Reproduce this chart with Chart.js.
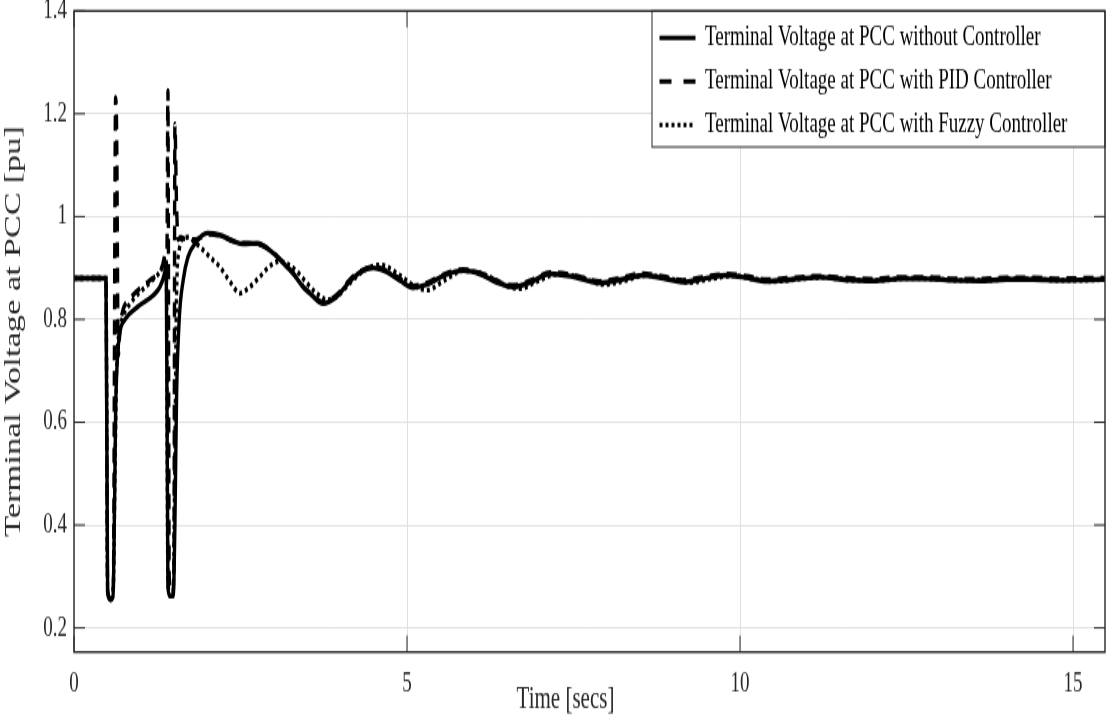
<!DOCTYPE html>
<html>
<head>
<meta charset="utf-8">
<script src="https://cdn.jsdelivr.net/npm/chart.js@4.4.1/dist/chart.umd.min.js"></script>
<style>
html,body{margin:0;padding:0;background:#fff;overflow:hidden;}
#wrap{width:1106px;height:723px;overflow:hidden;background:#fff;}
#c{display:block;transform:scaleY(1.5);transform-origin:0 0;}
</style>
</head>
<body>
<div id="wrap"><canvas id="c" width="1106" height="482"></canvas></div>
<script>
// ---------------- data ----------------
const seriesNames = [
  'Terminal Voltage at PCC without Controller',
  'Terminal Voltage at PCC with PID Controller',
  'Terminal Voltage at PCC with Fuzzy Controller'
];

const timeNoCtrl = [0,0.48,0.505,0.55,0.585,0.61,0.625,0.65,0.69,0.766,0.95,1.19,1.29,1.36,1.385,1.41,1.44,1.49,1.515,1.54,1.58,1.64,1.71,1.82,2.0,2.19,2.4,2.54,2.75,2.99,3.14,3.29,3.44,3.54,3.74,3.95,4.14,4.3,4.49,4.7,4.9,5.09,5.3,5.55,5.84,6.1,6.35,6.59,6.85,7.15,7.5,7.9,8.2,8.54,8.85,9.14,9.45,9.8,10.1,10.4,10.8,11.2,11.6,12.0,12.4,12.8,13.2,13.6,14.0,14.4,14.8,15.2,15.5];
const voltNoCtrl = [0.88,0.88,0.27,0.255,0.26,0.45,0.62,0.72,0.775,0.80,0.824,0.847,0.863,0.89,0.91,0.28,0.262,0.262,0.40,0.65,0.80,0.877,0.921,0.948,0.968,0.964,0.952,0.947,0.948,0.929,0.91,0.889,0.863,0.851,0.831,0.845,0.874,0.892,0.900,0.892,0.875,0.862,0.868,0.885,0.895,0.888,0.872,0.863,0.872,0.889,0.883,0.871,0.877,0.886,0.880,0.873,0.879,0.886,0.881,0.874,0.878,0.882,0.877,0.875,0.879,0.879,0.876,0.875,0.878,0.878,0.876,0.877,0.878];

const timePID = [0,0.48,0.505,0.55,0.59,0.625,0.64,0.665,0.69,0.72,0.84,1.14,1.32,1.38,1.395,1.41,1.43,1.47,1.50,1.515,1.54,1.565,1.6,1.7,1.82,2.0,2.19,2.4,2.54,2.75,2.99,3.14,3.29,3.44,3.54,3.74,3.95,4.14,4.3,4.49,4.7,4.9,5.09,5.3,5.55,5.84,6.1,6.35,6.59,6.85,7.15,7.5,7.9,8.2,8.54,8.85,9.14,9.45,9.8,10.1,10.4,10.8,11.2,11.6,12.0,12.4,12.8,13.2,13.6,14.0,14.4,14.8,15.2,15.5];
const voltPID = [0.88,0.88,0.27,0.255,0.27,1.232,1.17,0.73,0.78,0.81,0.84,0.876,0.90,0.93,0.93,1.245,0.30,0.262,0.30,1.18,1.02,0.955,0.96,0.955,0.955,0.966,0.963,0.952,0.948,0.947,0.93,0.911,0.89,0.864,0.852,0.833,0.848,0.877,0.894,0.902,0.894,0.878,0.865,0.871,0.887,0.897,0.89,0.875,0.866,0.875,0.891,0.886,0.874,0.88,0.889,0.883,0.876,0.882,0.888,0.884,0.877,0.881,0.884,0.88,0.878,0.882,0.882,0.879,0.878,0.881,0.881,0.879,0.88,0.88];

const timeFuzzy = [0,0.48,0.505,0.55,0.59,0.615,0.64,0.67,0.72,0.84,1.14,1.3,1.385,1.41,1.45,1.49,1.515,1.54,1.58,1.64,1.72,1.8,1.9,2.05,2.19,2.35,2.49,2.62,2.79,2.95,3.08,3.2,3.35,3.5,3.65,3.8,3.95,4.15,4.35,4.6,4.85,5.1,5.3,5.55,5.85,6.15,6.45,6.7,6.95,7.25,7.6,7.95,8.25,8.6,8.95,9.25,9.55,9.9,10.2,10.5,10.9,11.3,11.7,12.1,12.5,12.9,13.3,13.7,14.1,14.5,14.9,15.3,15.5];
const voltFuzzy = [0.88,0.88,0.27,0.258,0.28,0.50,0.70,0.77,0.80,0.83,0.872,0.895,0.92,0.29,0.262,0.27,0.55,0.85,0.935,0.957,0.96,0.952,0.94,0.92,0.902,0.872,0.851,0.861,0.883,0.905,0.913,0.908,0.893,0.87,0.85,0.838,0.845,0.872,0.895,0.906,0.89,0.866,0.857,0.875,0.895,0.888,0.868,0.86,0.874,0.888,0.882,0.868,0.875,0.886,0.879,0.872,0.879,0.885,0.879,0.874,0.879,0.882,0.876,0.876,0.88,0.879,0.876,0.876,0.879,0.878,0.876,0.877,0.878];

const xTicks = [0, 5, 10, 15];
const yTicks = [0.2, 0.4, 0.6, 0.8, 1, 1.2, 1.4];
const xLabel = 'Time [secs]';
const yLabel = 'Terminal Voltage at PCC [pu]';

// ---------------- chart ----------------
const toPts = (ts, vs) => ts.map((t, i) => ({x: t, y: vs[i]}));
const INK = '#262626';
Chart.defaults.font.family = "'Liberation Serif', 'Times New Roman', serif";
Chart.defaults.color = INK;

const frame = {
  id: 'frame',
  afterLayout(chart) {
    const lg = chart.legend, ca = chart.chartArea;
    lg.left = 649.5; lg.top = 5.8; lg.right = ca.right; lg.bottom = 112;
    lg.width = lg.right - lg.left; lg.height = lg.bottom - lg.top;
    if (!lg._wrapped) {
      const orig = lg.draw;
      lg.draw = function () {
        const ctx = this.ctx, a = chart.chartArea;
        ctx.save();
        ctx.fillStyle = '#fff';
        ctx.fillRect(652, a.top, a.right - 652, 98 - a.top);
        ctx.strokeStyle = INK; ctx.lineWidth = 1;
        ctx.strokeRect(652, a.top, a.right - 652, 98 - a.top);
        ctx.restore();
        orig.call(this);
      };
      lg._wrapped = true;
    }
    const xs = chart.scales.x;
    if (!xs._titleShifted) {
      const origTitle = xs.drawTitle;
      xs.drawTitle = function () {
        this.ctx.save();
        this.ctx.translate(-24, 0);
        origTitle.call(this);
        this.ctx.restore();
      };
      xs._titleShifted = true;
    }
  },
  afterDatasetsDraw(chart) {
    const ctx = chart.ctx, a = chart.chartArea;
    const xs = chart.scales.x, ys = chart.scales.y;
    ctx.save();
    ctx.strokeStyle = INK; ctx.lineWidth = 1;
    ctx.beginPath();
    yTicks.forEach(v => {
      const p = ys.getPixelForValue(v);
      ctx.moveTo(a.left, p); ctx.lineTo(a.left + 11, p);
      if (p > 99) { ctx.moveTo(a.right, p); ctx.lineTo(a.right - 11, p); }
    });
    xTicks.forEach(v => {
      const p = xs.getPixelForValue(v);
      ctx.moveTo(p, a.bottom); ctx.lineTo(p, a.bottom - 11);
      if (p < 650) { ctx.moveTo(p, a.top); ctx.lineTo(p, a.top + 11); }
    });
    ctx.stroke();
    ctx.lineWidth = 1.4;
    ctx.strokeRect(a.left, a.top, a.right - a.left, a.bottom - a.top);
    ctx.restore();
  }
};

new Chart(document.getElementById('c'), {
  type: 'line',
  data: {
    datasets: [
      {label: seriesNames[0], data: toPts(timeNoCtrl, voltNoCtrl), borderColor: '#000', backgroundColor: '#000', borderWidth: 3.4, pointRadius: 0, cubicInterpolationMode: 'monotone'},
      {label: seriesNames[1], data: toPts(timePID, voltPID), borderColor: '#000', backgroundColor: '#000', borderWidth: 3.4, borderDash: [10, 7], pointRadius: 0, cubicInterpolationMode: 'monotone'},
      {label: seriesNames[2], data: toPts(timeFuzzy, voltFuzzy), borderColor: '#000', backgroundColor: '#000', borderWidth: 3.4, borderDash: [3, 3], pointRadius: 0, cubicInterpolationMode: 'monotone'}
    ]
  },
  options: {
    responsive: false,
    devicePixelRatio: 1,
    animation: false,
    layout: {padding: {left: 0, right: 1, top: 7.3, bottom: 0}},
    plugins: {
      tooltip: {enabled: false},
      legend: {
        position: 'chartArea',
        align: 'start',
        labels: {
          usePointStyle: true,
          pointStyle: 'line',
          pointStyleWidth: 36,
          padding: 10,
          color: '#000',
          font: {size: 19},
          generateLabels(chart) {
            const items = Chart.defaults.plugins.legend.labels.generateLabels(chart);
            items.forEach(it => { it.lineWidth = 3; });
            items[1].lineDash = [12, 12];
            items[2].lineDash = [3, 3];
            return items;
          }
        }
      }
    },
    scales: {
      x: {
        type: 'linear',
        min: 0,
        max: 15.48,
        afterBuildTicks: s => { s.ticks = xTicks.map(v => ({value: v})); },
        afterFit: s => { s.height = 47.3; s.paddingLeft = 0; s.paddingRight = 0; },
        ticks: {font: {size: 19}, color: INK, padding: 10, maxRotation: 0, autoSkip: false, callback: v => String(v)},
        grid: {color: '#e0e0e0', lineWidth: 1, drawTicks: false},
        border: {display: false},
        title: {display: true, text: xLabel, color: INK, font: {size: 21}, padding: {top: 0, bottom: 3}}
      },
      y: {
        type: 'linear',
        min: 0.153,
        max: 1.4,
        afterBuildTicks: s => { s.ticks = yTicks.map(v => ({value: v})); },
        afterFit: s => { s.width = 74; s.paddingTop = 0; s.paddingBottom = 0; },
        ticks: {font: {size: 19}, color: INK, padding: 7, autoSkip: false, callback: v => String(v)},
        grid: {color: '#e0e0e0', lineWidth: 1, drawTicks: false},
        border: {display: false},
        title: {display: true, text: yLabel, color: INK, font: {size: 23}, padding: {top: 0, bottom: 0}}
      }
    }
  },
  plugins: [frame]
});
</script>
</body>
</html>
